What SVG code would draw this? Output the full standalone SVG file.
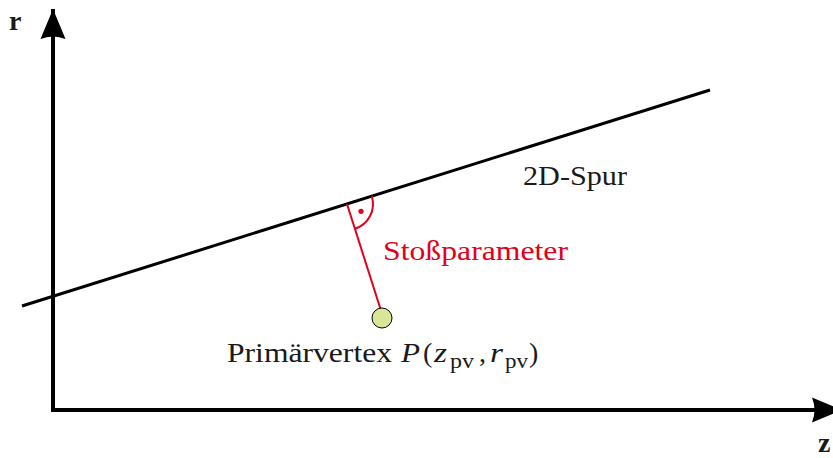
<svg xmlns="http://www.w3.org/2000/svg" width="833" height="458" viewBox="0 0 833 458">
<style>
text{font-family:"Liberation Serif","DejaVu Serif",serif;font-size:28px;fill:#1a1a1a}
.ax{font-weight:bold}
.red{fill:#e2001a}
.it{font-style:italic}
.sub{font-size:20px}
</style>
<defs>
<marker id="ah" markerWidth="32" markerHeight="28" refX="30" refY="13" orient="auto" markerUnits="userSpaceOnUse">
<path d="M30,13 L0,0.5 Q5,13 0,25.5 Z" fill="#000"/>
</marker>
</defs>
<rect width="833" height="458" fill="#fff"/>
<g id="connectors">
<line x1="53" y1="410" x2="53" y2="9" stroke="#000" stroke-width="4" marker-end="url(#ah)"/>
<line x1="51" y1="410" x2="842" y2="410" stroke="#000" stroke-width="4" marker-end="url(#ah)"/>
<line id="spur" x1="22" y1="306" x2="710" y2="90" stroke="#000" stroke-width="3"/>
<line x1="347" y1="204" x2="380.5" y2="309" stroke="#e2001a" stroke-width="2"/>
<path d="M371.8,196.2 A26,26 0 0 1 354.8,228.8" fill="none" stroke="#e2001a" stroke-width="2"/>
<circle cx="361" cy="211.3" r="2.6" fill="#e2001a"/>
</g>
<g id="vertex">
<circle cx="382" cy="318" r="10" fill="#d9e69a" stroke="#000" stroke-width="1"/>
<text x="227" y="362" textLength="165" lengthAdjust="spacingAndGlyphs">Primärvertex</text>
<text class="it" x="401" y="362" textLength="19" lengthAdjust="spacingAndGlyphs">P</text>
<text x="423" y="362">(</text>
<text class="it" x="434" y="362" textLength="13" lengthAdjust="spacingAndGlyphs">z</text>
<text class="sub" x="450" y="368" textLength="24" lengthAdjust="spacingAndGlyphs">pv</text>
<text x="479" y="362">,</text>
<text class="it" x="490" y="362" textLength="13" lengthAdjust="spacingAndGlyphs">r</text>
<text class="sub" x="505" y="368" textLength="23" lengthAdjust="spacingAndGlyphs">pv</text>
<text x="529" y="362">)</text>
</g>
<g id="labels">
<text class="ax" x="9" y="30">r</text>
<text class="ax" x="818" y="452">z</text>
<text x="523" y="185" textLength="104" lengthAdjust="spacingAndGlyphs">2D-Spur</text>
<text class="red" x="383" y="260" textLength="185" lengthAdjust="spacingAndGlyphs">Stoßparameter</text>
</g>
</svg>
